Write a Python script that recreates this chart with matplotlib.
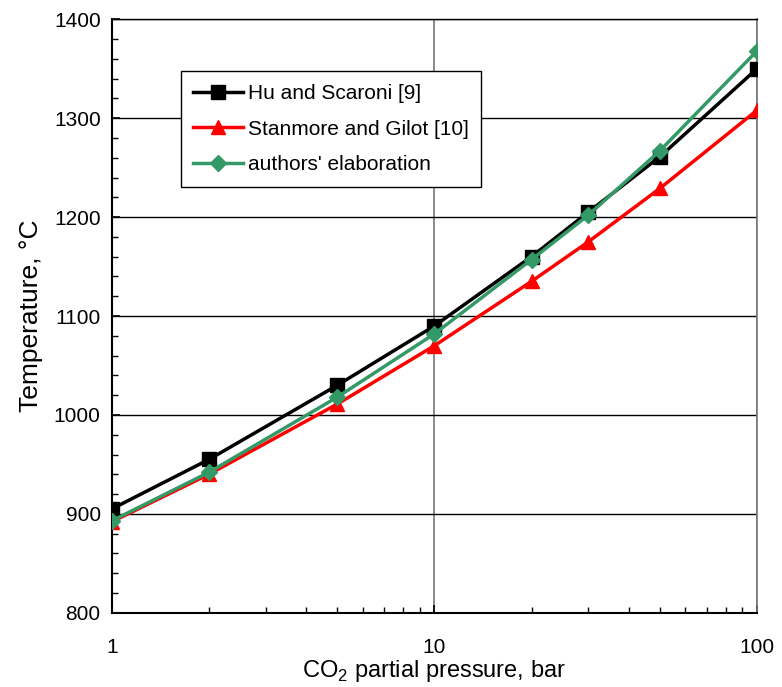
import numpy as np
import matplotlib as mpl
import matplotlib.pyplot as plt

plt.rcParams["font.family"] = ["Liberation Sans", "DejaVu Sans"]
plt.rcParams["mathtext.fontset"] = "custom"
plt.rcParams["mathtext.rm"] = "Liberation Sans"

pressure = [1, 2, 5, 10, 20, 30, 50, 100]
hu_scaroni = [905, 955, 1030, 1090, 1160, 1205, 1261, 1350]
stanmore_gilot = [892, 940, 1011, 1070, 1135, 1175, 1229, 1308]
authors = [893, 942, 1018, 1082, 1157, 1202, 1267, 1368]
labels = ["Hu and Scaroni [9]", "Stanmore and Gilot [10]", "authors' elaboration"]

BLACK = "#000000"
RED = "#FF0000"
GREEN = "#339966"

fig = plt.figure(figsize=(7.82, 6.87), dpi=100)
ax = fig.add_axes([0.143, 0.108, 0.825, 0.864])

ax.plot(pressure, hu_scaroni, "s-", color=BLACK, lw=2.5, ms=10.5, label=labels[0], zorder=3)
ax.plot(pressure, stanmore_gilot, "^-", color=RED, lw=2.5, ms=10.5, label=labels[1], zorder=3)
ax.plot(pressure, authors, "D-", color=GREEN, lw=2.5, ms=8.5, label=labels[2], zorder=4)

ax.set_xscale("log")
ax.set_xlim(1, 100)
ax.set_ylim(800, 1400)
ax.set_yticks(np.arange(800, 1401, 100))
ax.yaxis.set_minor_locator(mpl.ticker.MultipleLocator(20))
ax.xaxis.set_major_formatter(mpl.ticker.FuncFormatter(lambda v, p: f"{v:g}"))

ax.grid(True, which="major", axis="y", color="black", lw=1)
ax.grid(True, which="major", axis="x", color="#777777", lw=1.2)
ax.set_axisbelow(True)

ax.tick_params(which="both", direction="in", labelsize=15, top=False, right=False)
ax.tick_params(which="major", length=6, width=1.2)
ax.tick_params(which="minor", length=4, width=1)
ax.tick_params(axis="x", pad=18)
ax.tick_params(axis="y", pad=8)

for side in ["left", "bottom"]:
    ax.spines[side].set_color("black")
    ax.spines[side].set_linewidth(1.5)
ax.spines["top"].set_color("black")
ax.spines["top"].set_linewidth(1)
ax.spines["right"].set_color("#777777")
ax.spines["right"].set_linewidth(1.2)

ax.set_xlabel(r"CO$_2$ partial pressure, bar", fontsize=17, labelpad=1)
ax.set_ylabel("Temperature, °C", fontsize=19, labelpad=8)

leg = ax.legend(loc="upper left", bbox_to_anchor=(0.107, 0.912), borderaxespad=0,
                fontsize=15, frameon=True, fancybox=False, edgecolor="black",
                framealpha=1, borderpad=0.6, labelspacing=0.8, handlelength=2.4,
                handletextpad=0.2)
leg.get_frame().set_linewidth(1)

fig.savefig("out.png", dpi=100)
